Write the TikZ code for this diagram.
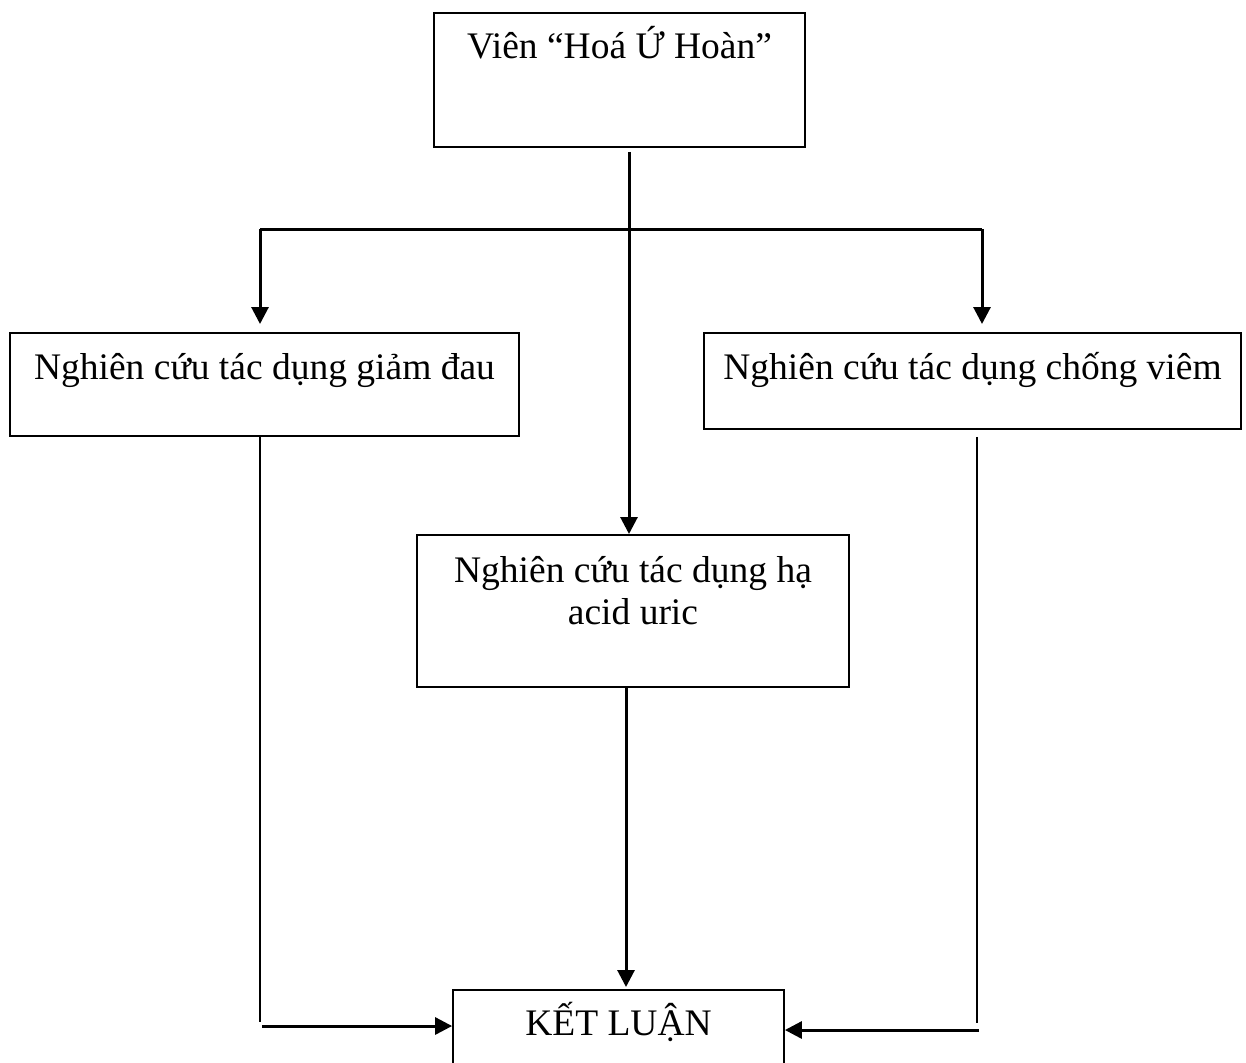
\documentclass[tikz,border=0pt]{standalone}
\usepackage{fontspec}
\setmainfont{Liberation Serif}
\usetikzlibrary{arrows.meta}
\tikzset{
  box/.style={draw,line width=1.8pt,inner xsep=0pt,inner ysep=0pt,align=center,anchor=north,
    font=\fontsize{37.5}{42}\selectfont},
  conn/.style={black,line width=3pt},
  thinconn/.style={black,line width=2pt},
  arr/.style={conn,-{Triangle[length=17pt,width=17pt]}},
}
\begin{document}
\begin{tikzpicture}[x=1pt,y=-1pt,line join=miter]
%%
  \path[use as bounding box,clip] (0,0) rectangle (1246,1062);

  \node (node_top) at (619.5,12) [box,minimum width=371pt,text height=46pt,text depth=88pt] {Viên “Hoá Ứ Hoàn”};
  \node (node_pain) at (264.5,332) [box,minimum width=509pt,text height=47pt,text depth=56pt] {Nghiên cứu tác dụng giảm đau};
  \node (node_infl) at (972.5,332) [box,minimum width=537pt,text height=47pt,text depth=49pt] {Nghiên cứu tác dụng chống viêm};
  \node (node_uric) at (633,534) [box,minimum width=432pt,text height=90pt,text depth=62pt] {Nghiên cứu tác dụng hạ\\acid uric};
  \node (node_end) at (618.5,989) [box,minimum width=331pt,text height=46pt,text depth=75pt] {KẾT LUẬN};

  \coordinate (split_l) at (260,229);
  \coordinate (split_r) at (982,229);
  \coordinate (join_l) at (260,1026);
  \coordinate (join_r) at (977,1030);

  \draw [arr] ([xshift=9.5pt,yshift=-4pt]node_top.south) -- ([xshift=-4pt]node_uric.north);
  \draw [conn] (split_l) -- (split_r);
  \draw [arr,shorten >=8pt] (split_l) -- (split_l |- node_pain.north);
  \draw [arr,shorten >=8pt] (split_r) -- (split_r |- node_infl.north);

  \draw [thinconn] (split_l |- node_pain.south) -- ([yshift=4pt]join_l);
  \draw [arr] ([xshift=2pt]join_l) -- (join_l -| node_end.west);
  \draw [arr] ([xshift=-7pt]node_uric.south) -- ([xshift=7.5pt,yshift=2pt]node_end.north);
  \draw [thinconn] ([yshift=-7pt]join_r |- node_infl.south) -- ([yshift=7pt]join_r);
  \draw [arr] ([xshift=2pt]join_r) -- (join_r -| node_end.east);

\end{tikzpicture}
\end{document}
